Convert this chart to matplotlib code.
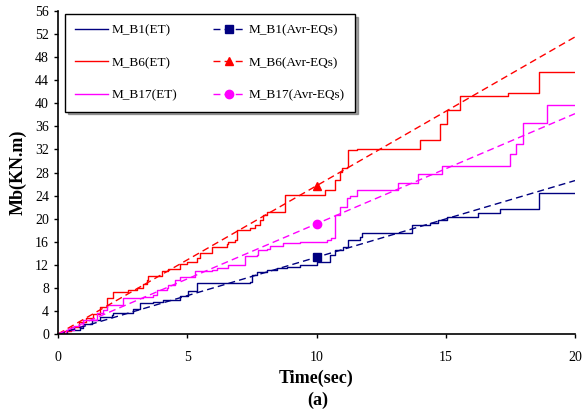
import matplotlib
matplotlib.use("Agg")
import matplotlib.pyplot as plt

plt.rcParams['font.family'] = ['Liberation Serif', 'DejaVu Serif']

# ET step series (time, value)
b1_t = [0, 0.33, 0.85, 0.98, 1.3, 1.62, 2.08, 2.14, 2.91, 3.17, 3.69, 4.07, 4.72, 5.04, 5.36,
        7.43, 7.49, 7.68, 8.07, 8.46, 8.84, 9.36, 10.0, 10.52, 10.72, 11.04, 11.23, 11.68, 11.75,
        13.68, 14.39, 14.71, 15.03, 16.26, 17.1, 18.62, 20]
b1_v = [0, 0.7, 1.0, 1.8, 2.4, 2.9, 3.3, 3.7, 4.4, 5.4, 5.6, 5.9, 6.6, 7.5, 8.9,
        9.1, 10.2, 10.8, 11.1, 11.4, 11.7, 12.0, 12.5, 13.7, 14.6, 15.1, 16.3, 16.9, 17.5,
        18.9, 19.2, 19.8, 20.3, 20.9, 21.6, 24.5, 24.5]

b6_t = [0, 0.25, 0.5, 0.8, 1.1, 1.35, 1.62, 1.88, 2.14, 2.72, 3.04, 3.3, 3.43, 3.5, 4.01, 4.27,
        4.72, 4.98, 5.36, 5.49, 5.94, 6.52, 6.59, 6.85, 6.91, 7.43, 7.62, 7.8, 7.94, 8.07, 8.78,
        10.33, 10.72, 10.91, 10.97, 11.17, 11.23, 11.56, 14.0, 14.78, 15.03, 15.55, 17.42, 18.62, 20]
b6_v = [0, 0.6, 1.3, 2.0, 2.8, 3.4, 4.7, 6.2, 7.2, 7.6, 7.9, 8.6, 9.4, 10.0, 11.0, 11.2,
        12.2, 12.5, 13.1, 14.0, 15.1, 15.6, 16.0, 16.3, 18.0, 18.3, 18.9, 19.8, 20.6, 21.2, 24.1,
        25.0, 26.7, 28.1, 28.7, 29.0, 31.9, 32.0, 33.6, 36.4, 38.8, 41.2, 41.8, 45.5, 45.5]

b17_t = [0, 0.3, 0.6, 0.98, 1.5, 1.75, 1.88, 2.53, 3.3, 3.69, 3.82, 4.2, 4.27, 4.53, 4.72, 5.3,
         5.94, 6.15, 6.59, 7.23, 7.68, 7.75, 8.07, 8.2, 8.72, 9.36, 10.39, 10.58, 10.72, 10.91,
         11.17, 11.3, 11.56, 13.17, 13.94, 14.84, 17.49, 17.72, 17.98, 18.93, 20]
b17_v = [0, 0.7, 1.4, 2.4, 3.6, 4.2, 5.0, 6.2, 6.4, 6.8, 7.6, 7.9, 8.5, 9.4, 9.8, 11.0,
         11.1, 11.4, 12.0, 13.5, 13.7, 14.6, 14.8, 15.2, 15.8, 16.0, 16.3, 16.6, 20.6, 22.1,
         23.5, 24.0, 25.0, 26.2, 27.8, 29.1, 31.2, 33.0, 36.5, 39.7, 39.7]

# Average-EQ lines
avr_t = [0, 10, 20]
avr_b1 = [0, 13.3, 26.6]
avr_b6 = [0, 25.7, 51.5]
avr_b17 = [0, 19.1, 38.2]

blue = '#000080'
red = '#ff0000'
mag = '#ff00ff'

fig = plt.figure(figsize=(5.83, 4.17), dpi=100)
ax = fig.add_axes([58/583, 1-334/417, 517/583, 323/417])

l1, = ax.plot(b1_t, b1_v, drawstyle='steps-post', color=blue, lw=1, label='M_B1(ET)')
l2, = ax.plot(b6_t, b6_v, drawstyle='steps-post', color=red, lw=1, label='M_B6(ET)')
l3, = ax.plot(b17_t, b17_v, drawstyle='steps-post', color=mag, lw=1, label='M_B17(ET)')
d1, = ax.plot(avr_t, avr_b1, color=blue, lw=1, dashes=(5, 3), marker='s', ms=6, markevery=[1],
              label='M_B1(Avr-EQs)')
d2, = ax.plot(avr_t, avr_b6, color=red, lw=1, dashes=(5, 3), marker='^', ms=6, markevery=[1],
              label='M_B6(Avr-EQs)')
d3, = ax.plot(avr_t, avr_b17, color=mag, lw=1, dashes=(5, 3), marker='o', ms=6, markevery=[1],
              label='M_B17(Avr-EQs)')

ax.set_xlim(0, 20)
ax.set_ylim(0, 56)
ax.set_xticks([0, 5, 10, 15, 20])
ax.set_yticks(range(0, 57, 4))
ax.spines['top'].set_visible(False)
ax.spines['right'].set_visible(False)
ax.spines['left'].set_linewidth(1.2)
ax.spines['bottom'].set_linewidth(1.2)
ax.tick_params(axis='both', labelsize=10, length=3, width=1, direction='out')
ax.tick_params(axis='x', pad=9)

ax.set_xlabel('Time(sec)', fontsize=13, fontweight='bold', labelpad=4)
ax.set_ylabel('Mb(KN.m)', fontsize=13, fontweight='bold', labelpad=6)
fig.text(318/583, 1-400/417, '(a)', fontsize=13, fontweight='bold',
         ha='center', va='center')

leg = ax.legend(handles=[l1, l2, l3, d1, d2, d3], ncol=2, loc='upper left',
                bbox_to_anchor=(0.0135, 0.99), borderaxespad=0, fontsize=9.5, frameon=True,
                fancybox=False, shadow=True, handlelength=2.5, labelspacing=1.55,
                columnspacing=2.7, borderpad=0.75, handletextpad=0.25)
leg.get_frame().set_edgecolor('black')
leg.get_frame().set_linewidth(1)

fig.savefig('out.png', dpi=100)
